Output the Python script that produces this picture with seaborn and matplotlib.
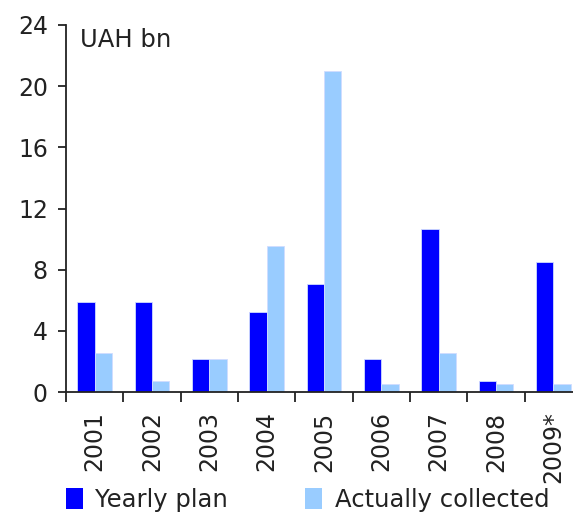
import matplotlib
matplotlib.use("Agg")
import matplotlib.pyplot as plt
import seaborn as sns
import pandas as pd
from matplotlib.patches import Patch

years = ["2001", "2002", "2003", "2004", "2005", "2006", "2007", "2008", "2009*"]
yearly_plan = [5.9, 5.9, 2.15, 5.2, 7.05, 2.15, 10.65, 0.7, 8.5]
actually_collected = [2.55, 0.7, 2.15, 9.55, 21.0, 0.5, 2.55, 0.5, 0.5]
series_names = ["Yearly plan", "Actually collected"]
colors = ["#0000FF", "#99CCFF"]

df = pd.DataFrame({
    "year": years * 2,
    "value": yearly_plan + actually_collected,
    "series": [series_names[0]] * len(years) + [series_names[1]] * len(years),
})

sns.set_style("white")
plt.rcParams['font.family'] = ['DejaVu Sans']

fig = plt.figure(figsize=(5.73, 5.15), dpi=100)
ax = fig.add_axes([66/573, 123/515, 516/573, 367/515])

sns.barplot(data=df, x="year", y="value", hue="series", order=years,
            hue_order=series_names, palette=colors, width=0.6, saturation=1,
            edgecolor="#d0dcff", linewidth=0.6, ax=ax, legend=False)

ax.set_xlim(-0.5, len(years) - 0.5)
ax.set_ylim(0, 24)
ax.set_yticks(range(0, 25, 4))
ax.set_xlabel("")
ax.set_ylabel("")

# category boundary ticks (major), labels at centers (minor)
ax.set_xticks([i - 0.5 for i in range(len(years) + 1)])
ax.set_xticklabels([])
ax.set_xticks(range(len(years)), minor=True)
ax.set_xticklabels(years, minor=True, rotation=90, fontsize=17, color="#222222")
ax.tick_params(axis="x", which="major", bottom=True, direction="out", length=7,
               width=1.3, color="#222222")
ax.tick_params(axis="x", which="minor", bottom=True, length=0, pad=14)
ax.tick_params(axis="y", left=True, direction="out", length=6, width=1.3, color="#222222",
               labelsize=17, labelcolor="#222222", pad=7)

for s in ["top", "right"]:
    ax.spines[s].set_visible(False)
for s in ["left", "bottom"]:
    ax.spines[s].set_color("#222222")
    ax.spines[s].set_linewidth(1.3)

ax.text(80/573, 1 - 40/515, "UAH bn", transform=fig.transFigure, fontsize=17.5,
        color="#222222", va="center", ha="left")

handles = [Patch(facecolor=c, edgecolor="none") for c in colors]
fig.legend(handles, series_names, loc="center left", bbox_to_anchor=(56/573, 1 - 500/515),
           ncol=2, frameon=False, fontsize=17.5, handlelength=0.7, handleheight=0.95,
           handletextpad=0.5, columnspacing=3.2, borderaxespad=0, labelcolor="#222222")

fig.savefig("out.png", dpi=100)
